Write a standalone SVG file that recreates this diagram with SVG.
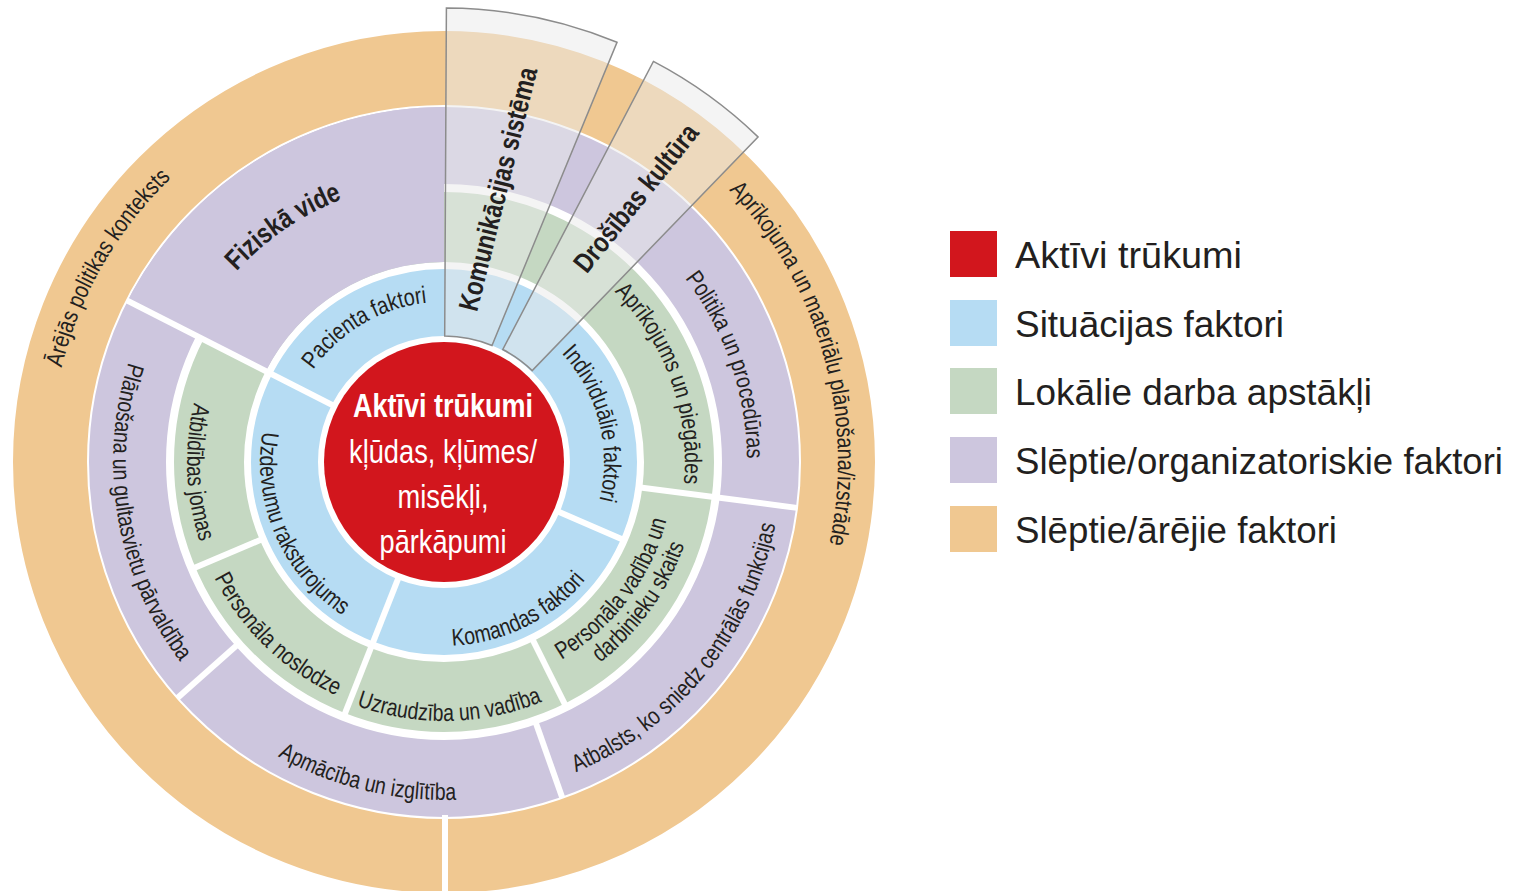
<svg xmlns="http://www.w3.org/2000/svg" width="1515" height="891" viewBox="0 0 1515 891">
  <defs>
    <style>
      .lbl{font-family:"Liberation Sans",Arial,sans-serif;font-size:24px;fill:#231f20}
      .bold{font-weight:bold;font-size:28px}
      .core{font-family:"Liberation Sans",Arial,sans-serif;font-size:33px;fill:#ffffff;text-anchor:middle}
      .leg{font-family:"Liberation Sans",Arial,sans-serif;font-size:37px;fill:#231f20}
      .div{stroke:#ffffff;stroke-width:6;fill:none}
      .band{fill:#e9e9e9;fill-opacity:0.5;stroke:#8c8c8c;stroke-width:1.5;stroke-linejoin:miter}
    </style>
    <!-- baseline arcs for curved labels (centre 444,462) -->
    <path id="pPacienta" d="M294.1,518 A160,160 0 0 1 565.7,358.1"/>
    <path id="pIndividualie" d="M431.4,302.5 A160,160 0 0 1 510.4,607.6"/>
    <path id="pKomandas" d="M295.9,571.2 A184,184 0 0 0 620.5,410.1"/>
    <path id="pUzdevumu" d="M342.4,308.6 A184,184 0 0 0 486.9,640.9"/>
    <path id="pAtbildibas" d="M388.8,211 A257,257 0 0 0 410,716.7"/>
    <path id="pNoslodze" d="M230.9,318.3 A257,257 0 0 0 595.1,669.9"/>
    <path id="pUzraudziba" d="M190,512.7 A259,259 0 0 0 700,501.2"/>
    <path id="pVadiba1" d="M339.6,666.9 A230,230 0 0 0 612.2,305.1"/>
    <path id="pVadiba2" d="M334.2,691.1 A254,254 0 0 0 625.5,284.3"/>
    <path id="pAprikojums" d="M402.6,224.6 A241,241 0 0 1 564.1,670.9"/>
    <path id="pPolitika" d="M396.6,162.7 A303,303 0 0 1 590.9,727"/>
    <path id="pAtbalsts" d="M281.6,757.3 A337,337 0 0 0 697.6,240"/>
    <path id="pApmaciba" d="M106.7,440.2 A338,338 0 0 0 753.5,597.8"/>
    <path id="pPlanosana" d="M331.9,150.6 A331,331 0 0 0 442.8,793"/>
    <path id="pFiziska" d="M187,578 A282,282 0 0 1 645.8,265.1"/>
    <path id="pArejas" d="M190.7,763.8 A394,394 0 0 1 578.7,91.8"/>
    <path id="pMaterialu" d="M404.2,70 A394,394 0 0 1 615.5,816.7"/>
  </defs>

  <rect width="1515" height="891" fill="#ffffff"/>

  <!-- concentric rings -->
  <g id="rings" fill="none">
    <circle id="ring-external" cx="444" cy="462" r="394" stroke="#f0c891" stroke-width="74"/>
    <circle id="ring-organisational" cx="444" cy="462" r="316.5" stroke="#cdc6de" stroke-width="77"/>
    <circle id="ring-local" cx="444" cy="462" r="235" stroke="#c5d8c2" stroke-width="70"/>
    <circle id="ring-situational" cx="444" cy="462" r="159.5" stroke="#b6dcf3" stroke-width="67"/>
    <path id="sector-fiziska" d="M127.7,300.8 A355,355 0 0 1 444,107 L444,262 A200,200 0 0 0 265.8,371.2 Z" fill="#cdc6de"/>
  </g>

  <!-- white radial separators -->
  <g id="dividers" class="div">
    <line x1="338.9" y1="408.4" x2="126.8" y2="300.4"/>
    <line x1="552.2" y1="509" x2="623.8" y2="540.1"/>
    <line x1="400.8" y1="571.8" x2="343.6" y2="716.9"/>
    <line x1="263.6" y1="538.6" x2="191.8" y2="569.1"/>
    <line x1="531.5" y1="637.4" x2="566.3" y2="707.2"/>
    <line x1="638.4" y1="487.2" x2="797" y2="507.9"/>
    <line x1="238.8" y1="643.6" x2="177.4" y2="697.9"/>
    <line x1="535" y1="720.4" x2="562.3" y2="797.8"/>
    <line x1="445" y1="815" x2="445" y2="895"/>
  </g>

  <g id="core">
    <circle cx="444" cy="462" r="120" fill="#d2161d"/>
    <text class="core" font-weight="bold" x="443" y="417" textLength="180" lengthAdjust="spacingAndGlyphs">Aktīvi trūkumi</text>
    <text class="core" x="443" y="463" textLength="188" lengthAdjust="spacingAndGlyphs">kļūdas, kļūmes/</text>
    <text class="core" x="443" y="508" textLength="91" lengthAdjust="spacingAndGlyphs">misēkļi,</text>
    <text class="core" x="443" y="553" textLength="127" lengthAdjust="spacingAndGlyphs">pārkāpumi</text>
  </g>

  <g id="situational-labels" class="lbl" text-anchor="middle">
    <g id="pacienta"><text><textPath href="#pPacienta" startOffset="50%" textLength="136" lengthAdjust="spacingAndGlyphs">Pacienta faktori</textPath></text></g>
    <g id="individualie"><text><textPath href="#pIndividualie" startOffset="50%" textLength="158" lengthAdjust="spacingAndGlyphs">Individuālie faktori</textPath></text></g>
    <g id="komandas"><text><textPath href="#pKomandas" startOffset="50%" textLength="153" lengthAdjust="spacingAndGlyphs">Komandas faktori</textPath></text></g>
    <g id="uzdevumu"><text><textPath href="#pUzdevumu" startOffset="50%" textLength="212" lengthAdjust="spacingAndGlyphs">Uzdevumu raksturojums</textPath></text></g>
  </g>

  <g id="local-labels" class="lbl" text-anchor="middle">
    <g id="atbildibas"><text><textPath href="#pAtbildibas" startOffset="50%" textLength="141" lengthAdjust="spacingAndGlyphs">Atbildības jomas</textPath></text></g>
    <g id="noslodze"><text><textPath href="#pNoslodze" startOffset="50%" textLength="173" lengthAdjust="spacingAndGlyphs">Personāla noslodze</textPath></text></g>
    <g id="uzraudziba"><text><textPath href="#pUzraudziba" startOffset="50%" textLength="190" lengthAdjust="spacingAndGlyphs">Uzraudzība un vadība</textPath></text></g>
    <g id="personala-vadiba">
      <text><textPath href="#pVadiba1" startOffset="50%" textLength="179" lengthAdjust="spacingAndGlyphs">Personāla vadība un</textPath></text>
      <text><textPath href="#pVadiba2" startOffset="50%" textLength="147" lengthAdjust="spacingAndGlyphs">darbinieku skaits</textPath></text>
    </g>
    <g id="aprikojums"><text><textPath href="#pAprikojums" startOffset="50%" textLength="211" lengthAdjust="spacingAndGlyphs">Aprīkojums un piegādes</textPath></text></g>
  </g>

  <g id="organisational-labels" class="lbl" text-anchor="middle">
    <g id="fiziska"><text class="bold"><textPath href="#pFiziska" startOffset="50%" textLength="129" lengthAdjust="spacingAndGlyphs">Fiziskā vide</textPath></text></g>
    <g id="politika"><text><textPath href="#pPolitika" startOffset="50%" textLength="194" lengthAdjust="spacingAndGlyphs">Politika un procedūras</textPath></text></g>
    <g id="atbalsts"><text><textPath href="#pAtbalsts" startOffset="50%" textLength="331" lengthAdjust="spacingAndGlyphs">Atbalsts, ko sniedz centrālās funkcijas</textPath></text></g>
    <g id="apmaciba"><text><textPath href="#pApmaciba" startOffset="50%" textLength="186" lengthAdjust="spacingAndGlyphs">Apmācība un izglītība</textPath></text></g>
    <g id="planosana"><text><textPath href="#pPlanosana" startOffset="50%" textLength="316" lengthAdjust="spacingAndGlyphs">Plānošana un gultasvietu pārvaldība</textPath></text></g>
  </g>

  <g id="external-labels" class="lbl" text-anchor="middle">
    <g id="arejas"><text><textPath href="#pArejas" startOffset="50%" textLength="222" lengthAdjust="spacingAndGlyphs">Ārējās politikas konteksts</textPath></text></g>
    <g id="materialu"><text><textPath href="#pMaterialu" startOffset="50%" textLength="383" lengthAdjust="spacingAndGlyphs">Aprīkojuma un materiālu plānošana/izstrāde</textPath></text></g>
  </g>

  <!-- translucent cross-cutting bands -->
  <g id="komunikacijas">
    <path class="band" d="M446.4,8 A454,454 0 0 1 617,42.3 L492,345.5 A126,126 0 0 0 444.7,336 Z"/>
    <text class="lbl bold" text-anchor="middle" dominant-baseline="central" transform="translate(498,189) rotate(-76)" textLength="250" lengthAdjust="spacingAndGlyphs">Komunikācijas sistēma</text>
  </g>
  <g id="drosibas">
    <path class="band" d="M653.4,61.4 A452,452 0 0 1 758,136.9 L532.2,370.6 A127,127 0 0 0 502.8,349.5 Z"/>
    <text class="lbl bold" text-anchor="middle" dominant-baseline="central" transform="translate(636,198) rotate(-51.2)" textLength="181" lengthAdjust="spacingAndGlyphs">Drošības kultūra</text>
  </g>

  <!-- legend -->
  <g id="legend">
    <rect x="950" y="231" width="47" height="46" fill="#d2161d"/>
    <rect x="950" y="300" width="47" height="46" fill="#b6dcf3"/>
    <rect x="950" y="368" width="47" height="46" fill="#c5d8c2"/>
    <rect x="950" y="437" width="47" height="46" fill="#cdc6de"/>
    <rect x="950" y="506" width="47" height="46" fill="#f0c891"/>
    <text class="leg" x="1015" y="268" textLength="227" lengthAdjust="spacingAndGlyphs">Aktīvi trūkumi</text>
    <text class="leg" x="1015" y="337" textLength="269" lengthAdjust="spacingAndGlyphs">Situācijas faktori</text>
    <text class="leg" x="1015" y="405" textLength="357" lengthAdjust="spacingAndGlyphs">Lokālie darba apstākļi</text>
    <text class="leg" x="1015" y="474" textLength="488" lengthAdjust="spacingAndGlyphs">Slēptie/organizatoriskie faktori</text>
    <text class="leg" x="1015" y="543" textLength="322" lengthAdjust="spacingAndGlyphs">Slēptie/ārējie faktori</text>
  </g>
</svg>
